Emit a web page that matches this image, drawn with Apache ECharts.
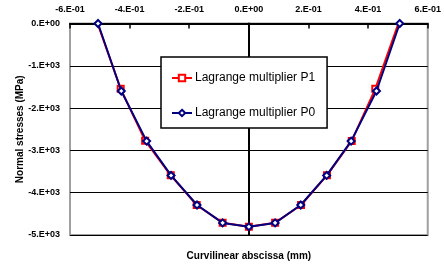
<!DOCTYPE html>
<html>
<head>
<meta charset="utf-8">
<script src="https://cdn.jsdelivr.net/npm/echarts@6/dist/echarts.min.js"></script>
<style>
html,body{margin:0;padding:0;background:#fff;}
#c{width:444px;height:266px;}
</style>
</head>
<body>
<div id="c"></div>
<script>
// Data
var xP1 = [-0.509, -0.430, -0.348, -0.262, -0.175, -0.088, 0.000, 0.088, 0.175, 0.262, 0.345, 0.424, 0.503];
var yP1 = [30, -1545, -2770, -3590, -4290, -4712, -4806, -4712, -4290, -3590, -2775, -1545, 30];
var xP0 = [-0.506, -0.428, -0.343, -0.261, -0.174, -0.088, 0.000, 0.088, 0.174, 0.261, 0.343, 0.428, 0.506];
var yP0 = [0, -1595, -2780, -3592, -4290, -4714, -4806, -4714, -4290, -3592, -2780, -1595, 0];
var seriesNames = ['Lagrange multiplier P1', 'Lagrange multiplier P0'];
var xTicks = [-0.6, -0.4, -0.2, 0, 0.2, 0.4, 0.6];
var xTickLabels = ['-6.E-01', '-4.E-01', '-2.E-01', '0.E+00', '2.E-01', '4.E-01', '6.E-01'];
var yTicks = [0, -1000, -2000, -3000, -4000, -5000];
var yTickLabels = ['0.E+00', '-1.E+03', '-2.E+03', '-3.E+03', '-4.E+03', '-5.E+03'];
var xTitle = 'Curvilinear abscissa (mm)';
var yTitle = 'Normal stresses (MPa)';

function lookup(ticks, labels, v) {
  for (var i = 0; i < ticks.length; i++) {
    if (Math.abs(ticks[i] - v) < 1e-6 * Math.max(1, Math.abs(v))) return labels[i];
  }
  return '';
}
function pairs(xs, ys) { return xs.map(function (x, i) { return [x, ys[i]]; }); }

var FONT = '"Liberation Sans", Arial, sans-serif';
var chart = echarts.init(document.getElementById('c'), null, {renderer: 'canvas'});
chart.setOption({
  animation: false,
  backgroundColor: '#fff',
  grid: {left: 70, right: 15.5, top: 23.5, bottom: 28.7, show: true, borderColor: '#a0a0a0', borderWidth: 2, backgroundColor: '#fff'},
  legend: {
    orient: 'vertical', left: 161, top: 57,
    backgroundColor: '#fff', borderColor: '#000', borderWidth: 1.5,
    padding: [15, 12, 9, 10], itemGap: 23, itemWidth: 20, itemHeight: 8,
    textStyle: {fontFamily: FONT, fontSize: 12, color: '#000', padding: [0, 0, 0, -2]},
    data: seriesNames
  },
  xAxis: [{
    type: 'value', position: 'top', min: -0.6, max: 0.6, interval: 0.2,
    axisLine: {show: true, onZero: false, lineStyle: {color: '#000', width: 2}},
    axisTick: {show: true, inside: true, length: 5, lineStyle: {color: '#000', width: 1.5}},
    axisLabel: {margin: 9, fontFamily: FONT, fontSize: 9, fontWeight: 'bold', color: '#000',
      formatter: function (v) { return lookup(xTicks, xTickLabels, v); }},
    splitLine: {show: false}
  }, {
    type: 'value', position: 'bottom', min: -0.6, max: 0.6, interval: 0.2,
    axisLine: {show: false}, axisTick: {show: false}, axisLabel: {show: false}, splitLine: {show: false},
    name: xTitle, nameLocation: 'middle', nameGap: 16,
    nameTextStyle: {fontFamily: FONT, fontSize: 10, fontWeight: 'bold', color: '#000'}
  }],
  yAxis: [{
    type: 'value', min: -5000, max: 0, interval: 1000, position: 'left',
    axisLine: {show: false}, axisTick: {show: false},
    axisLabel: {margin: 10, fontFamily: FONT, fontSize: 9, fontWeight: 'bold', color: '#000',
      formatter: function (v) { return lookup(yTicks, yTickLabels, v); }},
    splitLine: {show: true, lineStyle: {color: '#000', width: 1.2}},
    name: yTitle, nameLocation: 'middle', nameGap: 45, nameRotate: 90, nameMoveOverlap: false,
    nameTextStyle: {fontFamily: FONT, fontSize: 10, fontWeight: 'bold', color: '#000'}
  }, {
    type: 'value', min: -5000, max: 0, interval: 1000,
    axisLine: {show: true, onZero: true, lineStyle: {color: '#000', width: 2}},
    axisTick: {show: false}, axisLabel: {show: false}, splitLine: {show: false}
  }],
  series: [{
    name: seriesNames[0], type: 'line', xAxisIndex: 0, yAxisIndex: 0,
    data: pairs(xP1, yP1),
    symbol: 'rect', symbolSize: 6, showAllSymbol: true,
    lineStyle: {color: '#ff0000', width: 2},
    itemStyle: {color: '#fff', borderColor: '#ff0000', borderWidth: 2},
    z: 3
  }, {
    name: seriesNames[1], type: 'line', xAxisIndex: 0, yAxisIndex: 0,
    data: pairs(xP0, yP0),
    symbol: 'diamond', symbolSize: 7, showAllSymbol: true,
    lineStyle: {color: '#000080', width: 2},
    itemStyle: {color: '#fff', borderColor: '#000080', borderWidth: 2},
    z: 4
  }]
});
</script>
</body>
</html>
